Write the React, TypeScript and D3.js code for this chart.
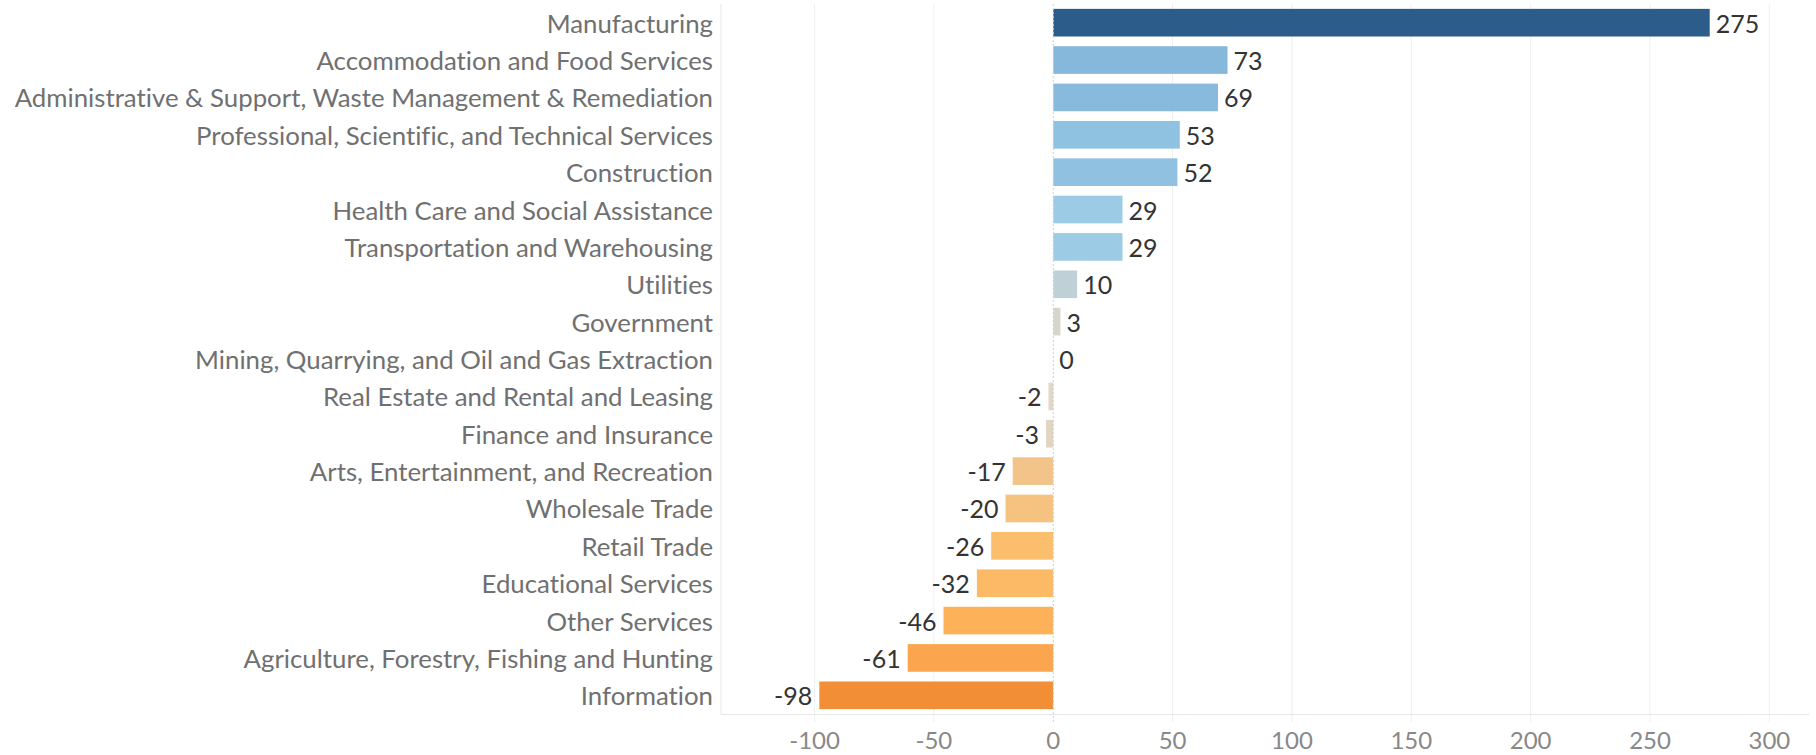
import React from "react";
import * as d3 from "d3";

const categories: string[] = [
  "Manufacturing",
  "Accommodation and Food Services",
  "Administrative & Support, Waste Management & Remediation",
  "Professional, Scientific, and Technical Services",
  "Construction",
  "Health Care and Social Assistance",
  "Transportation and Warehousing",
  "Utilities",
  "Government",
  "Mining, Quarrying, and Oil and Gas Extraction",
  "Real Estate and Rental and Leasing",
  "Finance and Insurance",
  "Arts, Entertainment, and Recreation",
  "Wholesale Trade",
  "Retail Trade",
  "Educational Services",
  "Other Services",
  "Agriculture, Forestry, Fishing and Hunting",
  "Information",
];

const values: number[] = [275, 73, 69, 53, 52, 29, 29, 10, 3, 0, -2, -3, -17, -20, -26, -32, -46, -61, -98];

const xTicks: number[] = [-100, -50, 0, 50, 100, 150, 200, 250, 300];

const colorDomain: number[] = [-98, -61, -46, -26, -17, -3, 0, 3, 10, 29, 73, 275];
const colorRange: string[] = [
  "#f28e35", "#fba64e", "#fdb25a", "#fbbe6c", "#f3c489", "#e0d4c2",
  "#dcdad5", "#d5d5cc", "#bfd1d7", "#9ccbe5", "#85b8db", "#2c5d8a",
];

const W = 1816;
const H = 755;
const FONT = "Lato, 'Open Sans', sans-serif";

export default function App() {
  const plotLeft = 721;
  const plotRight = 1809;
  const plotTop = 4;
  const plotBottom = 714;

  const x = d3
    .scaleLinear()
    .domain([-139.2, 316.6])
    .range([plotLeft, plotRight]);

  const y = d3
    .scaleBand<string>()
    .domain(categories)
    .range([plotTop, plotBottom])
    .paddingInner(0.26)
    .paddingOuter(0.13);

  const color = d3
    .scaleLinear<string>()
    .domain(colorDomain)
    .range(colorRange)
    .interpolate(d3.interpolateRgb);

  const data = categories.map((c, i) => ({ c, v: values[i] }));
  const bw = y.bandwidth();

  return (
    <svg
      width={W}
      height={H}
      style={{
        position: "absolute",
        left: 0,
        top: 0,
        background: "#fff",
        fontVariantLigatures: "none",
      }}
      fontFamily={FONT}
    >
      {/* vertical gridlines */}
      {xTicks
        .filter((t) => t !== 0)
        .map((t) => (
          <line
            key={"g" + t}
            x1={x(t)}
            x2={x(t)}
            y1={plotTop}
            y2={plotBottom + 8}
            stroke="#efefef"
            strokeWidth={1}
          />
        ))}
      {/* left border of plot */}
      <line x1={plotLeft} x2={plotLeft} y1={plotTop} y2={plotBottom} stroke="#e6e6e6" strokeWidth={1} />
      {/* bottom axis line */}
      <line x1={plotLeft} x2={plotRight} y1={plotBottom + 0.5} y2={plotBottom + 0.5} stroke="#e6e6e6" strokeWidth={1} />

      {/* bars */}
      {data.map((d) => (
        <rect
          key={"b" + d.c}
          x={Math.min(x(0), x(d.v))}
          y={y(d.c)}
          width={Math.abs(x(d.v) - x(0))}
          height={bw}
          fill={color(d.v)}
        />
      ))}

      {/* zero line */}
      <line
        x1={x(0)}
        x2={x(0)}
        y1={plotTop}
        y2={plotBottom + 8}
        stroke="#cfcfcf"
        strokeWidth={1}
        strokeDasharray="2,2"
      />

      {/* category labels */}
      {data.map((d) => (
        <text
          key={"l" + d.c}
          x={plotLeft - 8}
          y={(y(d.c) as number) + bw / 2}
          textAnchor="end"
          dominantBaseline="central"
          fontSize={25.8}
          fill="#707070"
        >
          {d.c}
        </text>
      ))}

      {/* value labels */}
      {data.map((d) => (
        <text
          key={"v" + d.c}
          x={d.v >= 0 ? x(d.v) + 6 : x(d.v) - 7}
          y={(y(d.c) as number) + bw / 2}
          textAnchor={d.v >= 0 ? "start" : "end"}
          dominantBaseline="central"
          fontSize={25}
          fill="#333333"
        >
          {d.v}
        </text>
      ))}

      {/* tick labels */}
      {xTicks.map((t) => (
        <text
          key={"t" + t}
          x={x(t)}
          y={739}
          textAnchor="middle"
          dominantBaseline="central"
          fontSize={24}
          fill="#888888"
        >
          {t}
        </text>
      ))}
    </svg>
  );
}
